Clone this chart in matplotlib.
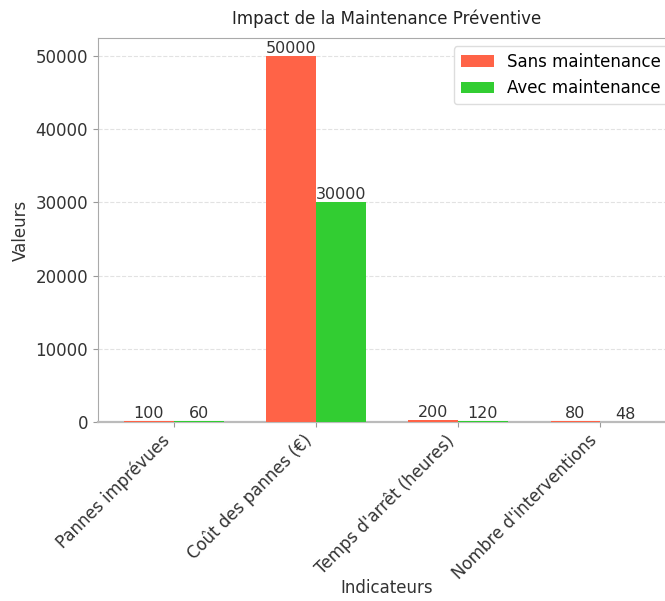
import matplotlib
matplotlib.use('Agg')
import matplotlib.pyplot as plt
import numpy as np

indicateurs = ['Pannes imprévues', 'Coût des pannes (€)', "Temps d'arrêt (heures)", "Nombre d'interventions"]
sans_maint = [100, 50000, 200, 80]
avec_maint = [60, 30000, 120, 48]

plt.rcParams['font.family'] = ['DejaVu Sans']

fig = plt.figure(figsize=(6.65, 6.01), dpi=100)
ax = fig.add_axes([0.147, 0.298, 0.87, 0.639])

x = np.arange(len(indicateurs))
w = 0.35
b1 = ax.bar(x - w/2, sans_maint, w, color='#FF6347', label='Sans maintenance', zorder=3)
b2 = ax.bar(x + w/2, avec_maint, w, color='#32CD32', label='Avec maintenance', zorder=3)

# valeur au-dessus de chaque barre
for bars in (b1, b2):
    for b in bars:
        ax.text(b.get_x() + b.get_width()/2, b.get_height(), f'{int(b.get_height())}',
                ha='center', va='bottom', fontsize=11.5, color='#333')

ax.set_xticks(x)
ax.set_xticklabels(indicateurs, rotation=45, ha='right', fontsize=12, color='#333')
ax.tick_params(axis='y', labelsize=12, labelcolor='#333', color='#999')
ax.tick_params(axis='x', color='#999')
ax.set_ylabel('Valeurs', fontsize=12, color='#333')
ax.set_xlabel('Indicateurs', fontsize=12, color='#333')
ax.xaxis.set_label_coords(0.5, -0.41)
ax.set_title('Impact de la Maintenance Préventive', fontsize=12, color='#222', pad=10)
ax.yaxis.grid(True, linestyle='--', color='#e2e2e2', lw=0.8)
ax.set_axisbelow(True)
for s in ax.spines.values():
    s.set_color('#aaa')
ax.spines['bottom'].set_linewidth(1.6)
ax.spines['bottom'].set_color('#bbb')
ax.legend(loc='upper right', fontsize=12, framealpha=1, edgecolor='#ddd')

fig.savefig('out.png', dpi=100, facecolor='white')
